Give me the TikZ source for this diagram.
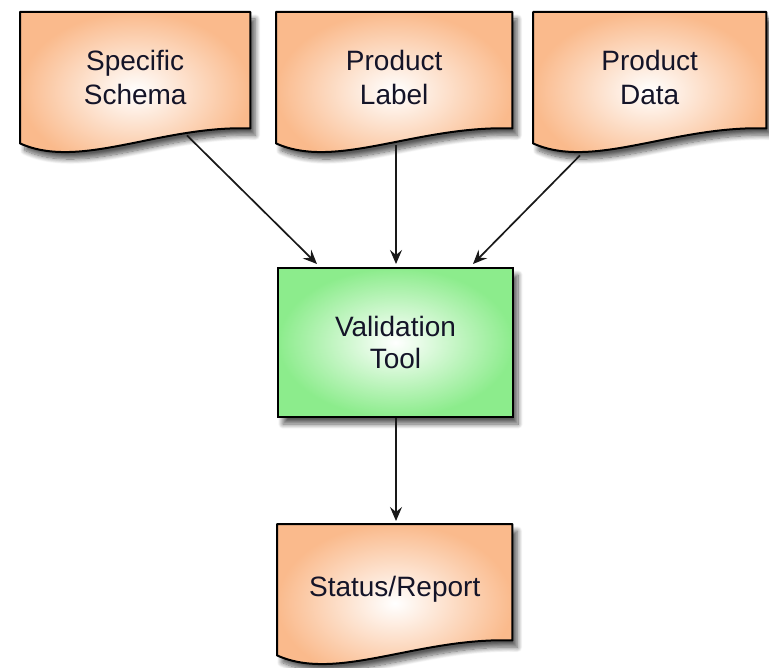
\documentclass[tikz,border=0pt]{standalone}
\usepackage{fontspec}
\setmainfont{Liberation Sans}
\usetikzlibrary{calc,shadows.blur,backgrounds,arrows.meta}
\definecolor{docor}{RGB}{250,186,140}
\definecolor{toolgr}{RGB}{140,236,140}
\definecolor{txt}{RGB}{20,20,40}
\tikzset{
  geom/.style={minimum width=#1, minimum height=131pt, anchor=north west, inner sep=0pt,
    align=center, text=txt, font=\fontsize{28}{34}\selectfont},
  docfill/.style={draw=black, line width=2pt, line join=round, shading=radial, inner color=white, outer color=docor,
    blur shadow={shadow xshift=5pt, shadow yshift=-7pt, shadow blur radius=5pt, shadow blur steps=10, shadow opacity=65}},
  toolbox/.style={draw=black, line width=2pt, shading=radial, inner color=white, outer color=toolgr,
    minimum width=235pt, minimum height=149pt, anchor=north west, inner sep=0pt,
    align=center, text=txt, font=\fontsize{28}{32}\selectfont,
    blur shadow={shadow xshift=5pt, shadow yshift=-7pt, shadow blur radius=5pt, shadow blur steps=10, shadow opacity=65}},
  conn/.style={line width=1.7pt, draw=black!90, -{Stealth[length=14pt,width=12pt,inset=5pt]}}
}
\newcommand{\docshape}[1]{%
  \path[docfill] (#1.north west) -- (#1.north east) -- ($(#1.south east)+(0,-15)$)
    .. controls ($(#1.south west)+(140,-18)$) and ($(#1.south west)+(60,27)$) .. (#1.south west) -- cycle;}
\begin{document}
\begin{tikzpicture}[x=1pt,y=-1pt]
\useasboundingbox (0,0) rectangle (769,668);
\node[geom=230pt] (ss) at (20,12) {Specific\\Schema};
\node[geom=236pt] (pl) at (276,12) {Product\\Label};
\node[geom=233pt] (pd) at (533,12) {Product\\Data};
\node[geom=235pt] (sr) at (277,524) {Status/Report};
\node[toolbox] (vt) at (277,267) {Validation\\Tool};
\begin{scope}[on background layer]
  \docshape{ss}
  \docshape{pl}
  \docshape{pd}
  \docshape{sr}
\end{scope}
\coordinate (ssout) at ($(ss.south west)+(167,-8)$);
\coordinate (plout) at ($(pl.south west)+(120,2)$);
\coordinate (pdout) at ($(pd.south west)+(47,12)$);
\draw[conn] (ssout) -- ($(vt.north west)+(40,-3)$);
\draw[conn] (plout) -- ($(vt.north west)+(119,-3)$);
\draw[conn] (pdout) -- ($(vt.north west)+(196,-3)$);
\draw[conn] ($(vt.south west)+(119,0)$) -- ($(sr.north west)+(119,-3)$);
\end{tikzpicture}
\end{document}
